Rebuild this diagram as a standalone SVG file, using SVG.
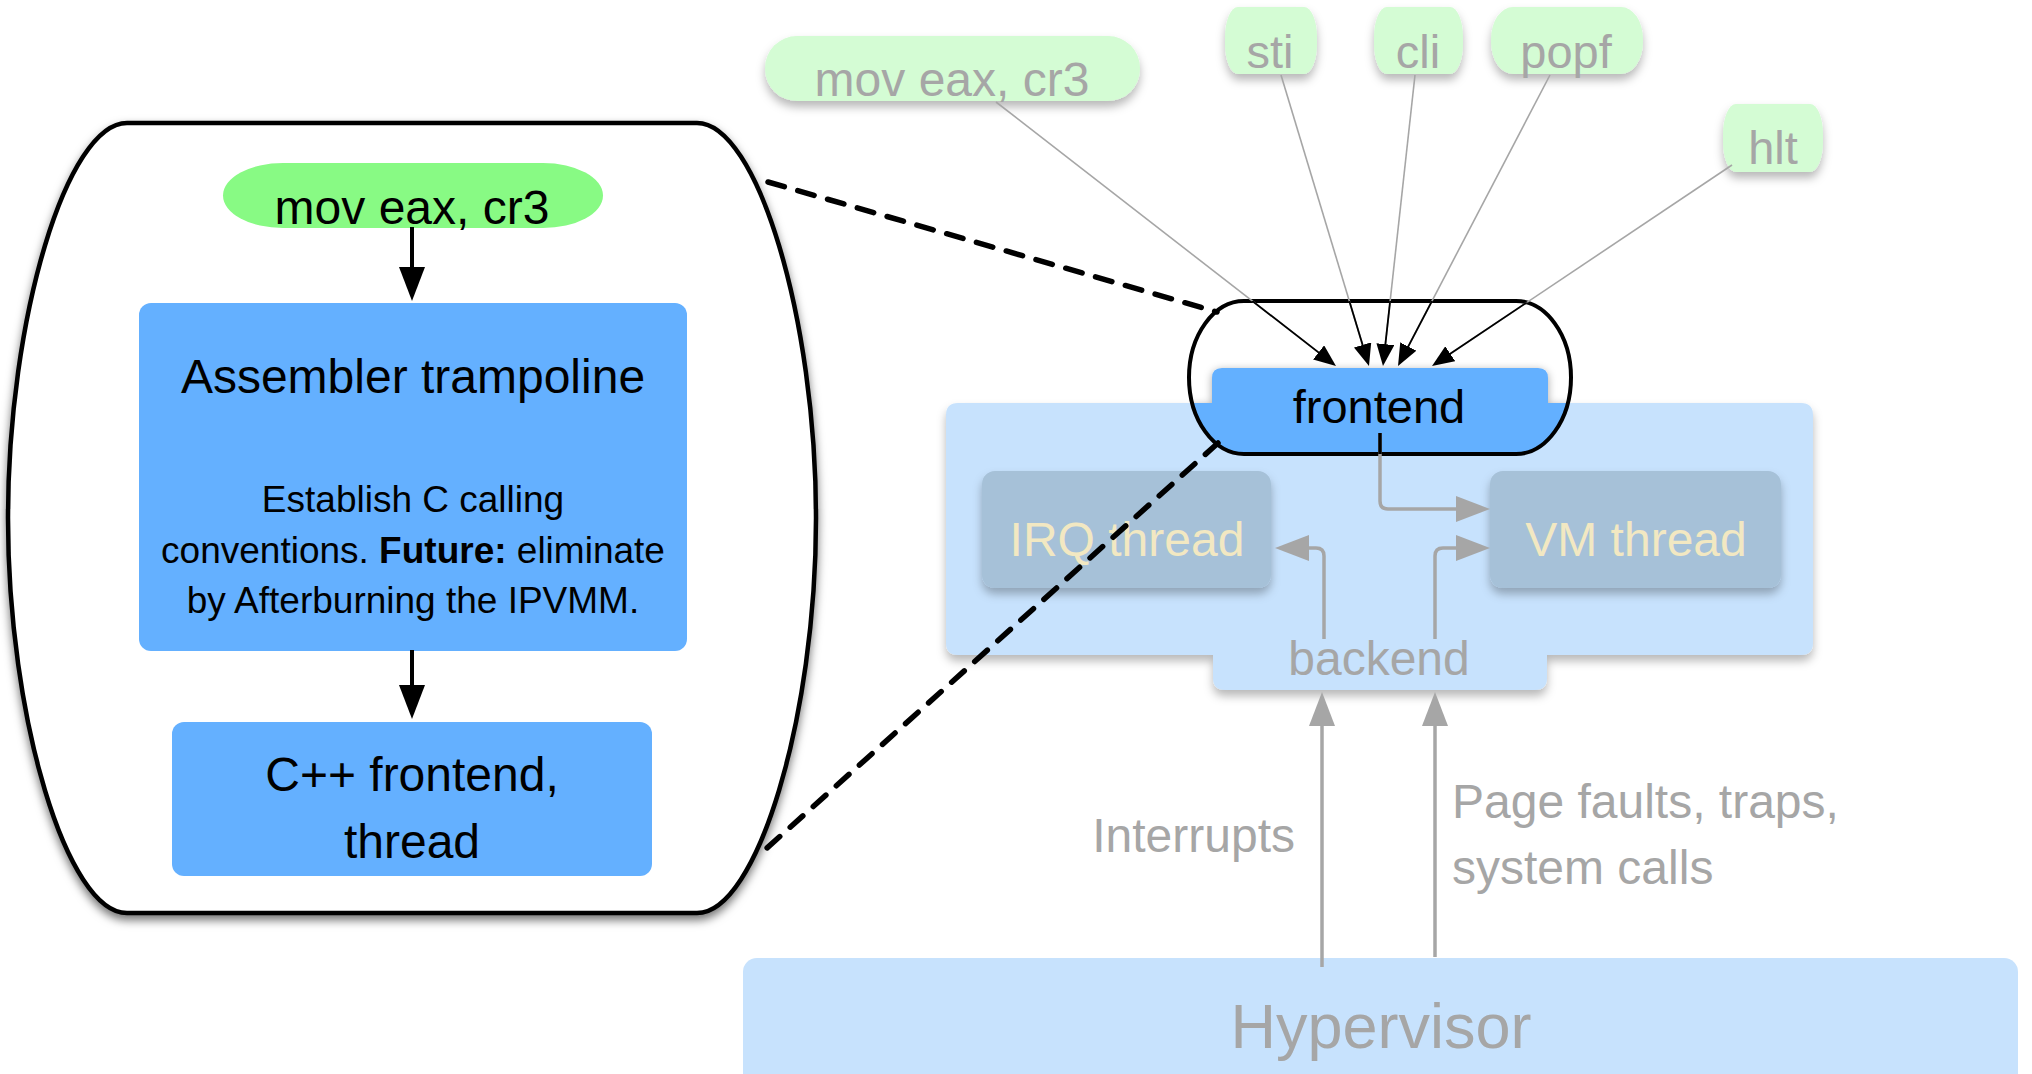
<svg xmlns="http://www.w3.org/2000/svg" width="2032" height="1074" viewBox="0 0 2032 1074">
<style>
text{font-family:"Liberation Sans",Arial,Helvetica,sans-serif}
.t48{font-size:48px}
.blk{fill:#000}
.gry{fill:#a6a6a6}
.mid{text-anchor:middle}
.blue{fill:#64b0ff}
.lblue{fill:#c7e2fd}
.pgreen{fill:#d4fcd4}
.thr{fill:#a6c1d8}
.thrt{fill:#f2e8c2}
.gline{fill:none;stroke:#a6a6a6;stroke-width:3.5}
.tline{fill:none;stroke:#a6a6a6;stroke-width:1.6}
.kline{fill:none;stroke:#000;stroke-width:1.8}
.dash{fill:none;stroke:#000;stroke-width:5.5;stroke-dasharray:17 14;stroke-linecap:round}
</style>
<defs>
<filter id="sh" x="-20%" y="-20%" width="140%" height="160%"><feDropShadow dx="0" dy="6" stdDeviation="5" flood-color="#000" flood-opacity="0.28"/></filter>
<filter id="shd" x="-10%" y="-10%" width="120%" height="125%"><feDropShadow dx="0" dy="5" stdDeviation="5" flood-color="#000" flood-opacity="0.55"/></filter>
<filter id="shs" x="-10%" y="-30%" width="120%" height="160%"><feDropShadow dx="0" dy="2" stdDeviation="4" flood-color="#000" flood-opacity="0.35"/></filter>
<clipPath id="fclip"><path d="M1244,301 H1516 C1546,301 1571,335 1571,377.5 C1571,420 1546,454 1516,454 H1244 C1214,454 1189,420 1189,377.5 C1189,335 1214,301 1244,301 Z"/></clipPath>
<marker id="abk" viewBox="0 0 34 26" refX="14" refY="13" markerWidth="34" markerHeight="26" markerUnits="userSpaceOnUse" orient="auto"><path d="M0,0 L34,13 L0,26 Z" fill="#000"/></marker>
<marker id="agr" viewBox="0 0 34 26" refX="14" refY="13" markerWidth="34" markerHeight="26" markerUnits="userSpaceOnUse" orient="auto"><path d="M0,0 L34,13 L0,26 Z" fill="#a6a6a6"/></marker>
<marker id="asm" viewBox="0 0 22 18" refX="10" refY="9" markerWidth="22" markerHeight="18" markerUnits="userSpaceOnUse" orient="auto"><path d="M0,0 L22,9 L0,18 Z" fill="#000"/></marker>
</defs>

<rect width="2032" height="1074" fill="#fff"/>

<!-- Hypervisor -->
<g id="hypervisor">
<rect x="743" y="958" width="1275" height="150" rx="14" class="lblue"/>
<text x="1381" y="1048" class="gry mid" style="font-size:63px">Hypervisor</text>
</g>

<!-- backend panel -->
<g id="backend">
<path filter="url(#sh)" class="lblue" d="M958,403 H1801 Q1813,403 1813,415 V643 Q1813,655 1801,655 H1547 V678 Q1547,690 1535,690 H1225 Q1213,690 1213,678 V655 H958 Q946,655 946,643 V415 Q946,403 958,403 Z"/>
<text x="1379" y="675" class="t48 gry mid">backend</text>
</g>
<g id="irq-thread">
<rect x="982" y="471" width="289" height="117" rx="13" class="thr" filter="url(#sh)"/>
<text x="1127" y="556" class="t48 thrt mid">IRQ thread</text>
</g>
<g id="vm-thread">
<rect x="1490" y="471" width="291" height="117" rx="13" class="thr" filter="url(#sh)"/>
<text x="1636" y="556" class="t48 thrt mid">VM thread</text>
</g>

<!-- frontend -->
<g id="frontend">
<path fill="#fff" d="M1244,301 H1516 C1546,301 1571,335 1571,377.5 C1571,420 1546,454 1516,454 H1244 C1214,454 1189,420 1189,377.5 C1189,335 1214,301 1244,301 Z"/>
<g clip-path="url(#fclip)">
<path class="blue" filter="url(#shs)" d="M1212,403 V378 Q1212,368 1222,368 H1538 Q1548,368 1548,378 V403 H1590 V470 H1170 V403 Z"/>
</g>
<text x="1379" y="423" class="blk mid" style="font-size:47px">frontend</text>
<path fill="none" stroke="#000" stroke-width="4" d="M1244,301 H1516 C1546,301 1571,335 1571,377.5 C1571,420 1546,454 1516,454 H1244 C1214,454 1189,420 1189,377.5 C1189,335 1214,301 1244,301 Z"/>
</g>

<!-- top instruction pills -->
<g id="pill-mov-top">
<rect x="765" y="36" width="375" height="65" rx="32" class="pgreen" filter="url(#sh)"/>
<text x="952" y="96" class="t48 gry mid">mov eax, cr3</text>
</g>
<g id="pill-sti">
<rect x="1225" y="7" width="92" height="67" rx="13" ry="30" class="pgreen" filter="url(#sh)"/>
<text x="1270" y="68" class="gry mid" style="font-size:47px">sti</text>
</g>
<g id="pill-cli">
<rect x="1374" y="7" width="89" height="67" rx="13" ry="30" class="pgreen" filter="url(#sh)"/>
<text x="1418" y="68" class="gry mid" style="font-size:47px">cli</text>
</g>
<g id="pill-popf">
<rect x="1491" y="7" width="152" height="67" rx="22" ry="32" class="pgreen" filter="url(#sh)"/>
<text x="1566" y="68" class="gry mid" style="font-size:47px">popf</text>
</g>
<g id="pill-hlt">
<rect x="1723" y="104" width="100" height="68" rx="13" ry="30" class="pgreen" filter="url(#sh)"/>
<text x="1773" y="164" class="gry mid" style="font-size:47px">hlt</text>
</g>

<!-- left detail container -->
<g id="detail">
<path filter="url(#shd)" fill="#fff" stroke="#000" stroke-width="4.5" d="M127,123 H697 C757,123 816,318 816,518 C816,718 757,913 697,913 H127 C67,913 8,718 8,518 C8,318 67,123 127,123 Z"/>
</g>
<g id="pill-mov">
<rect x="223" y="163" width="380" height="65" rx="60" ry="32.5" fill="#88fa84"/>
<text x="412" y="224" class="t48 blk mid">mov eax, cr3</text>
</g>
<g id="asm-trampoline">
<rect x="139" y="303" width="548" height="348" rx="12" class="blue"/>
<text x="413" y="393" class="t48 blk mid">Assembler trampoline</text>
<text class="blk mid" style="font-size:37px"><tspan x="413" y="512">Establish C calling</tspan><tspan x="413" y="563">conventions. <tspan font-weight="bold">Future:</tspan> eliminate</tspan><tspan x="413" y="613">by Afterburning the IPVMM.</tspan></text>
</g>
<g id="cpp-frontend">
<rect x="172" y="722" width="480" height="154" rx="12" class="blue"/>
<text class="t48 blk mid"><tspan x="412" y="791">C++ frontend,</tspan><tspan x="412" y="858">thread</tspan></text>
</g>

<!-- labels -->
<g id="labels">
<text x="1295" y="852" class="t48 gry" text-anchor="end">Interrupts</text>
<text class="t48 gry"><tspan x="1452" y="818">Page faults, traps,</tspan><tspan x="1452" y="884">system calls</tspan></text>
</g>

<!-- connectors -->
<g id="connectors">
<path class="kline" stroke-width="4" style="stroke-width:4" d="M412,227 V281" marker-end="url(#abk)"/>
<path class="kline" style="stroke-width:4" d="M412,650 V699" marker-end="url(#abk)"/>

<path class="tline" d="M996,102 L1326.5,358.6"/>
<path class="tline" d="M1281,75 L1365.5,354.5"/>
<path class="tline" d="M1415,75 L1384.3,354.1"/>
<path class="tline" d="M1550,75 L1403.6,355.4"/>
<path class="tline" d="M1732,165 L1442,359.3"/>
<g clip-path="url(#fclip)">
<path class="kline" d="M996,102 L1326.5,358.6"/>
<path class="kline" d="M1281,75 L1365.5,354.5"/>
<path class="kline" d="M1415,75 L1384.3,354.1"/>
<path class="kline" d="M1550,75 L1403.6,355.4"/>
<path class="kline" d="M1732,165 L1442,359.3"/>
</g>
<path fill="none" stroke="none" d="M996,102 L1326.5,358.6" marker-end="url(#asm)"/>
<path fill="none" stroke="none" d="M1281,75 L1365.5,354.5" marker-end="url(#asm)"/>
<path fill="none" stroke="none" d="M1415,75 L1384.3,354.1" marker-end="url(#asm)"/>
<path fill="none" stroke="none" d="M1550,75 L1403.6,355.4" marker-end="url(#asm)"/>
<path fill="none" stroke="none" d="M1732,165 L1442,359.3" marker-end="url(#asm)"/>

<path class="gline" d="M1380,433 V501 Q1380,509 1388,509 H1470" marker-end="url(#agr)"/>
<path fill="none" stroke="#000" stroke-width="3.5" clip-path="url(#fclip)" d="M1380,433 V470"/>
<path class="gline" d="M1324,639 V556 Q1324,548 1316,548 H1295" marker-end="url(#agr)"/>
<path class="gline" d="M1435,639 V556 Q1435,548 1443,548 H1470" marker-end="url(#agr)"/>
<path class="gline" d="M1322,967 V712" marker-end="url(#agr)"/>
<path class="gline" d="M1435,957 V712" marker-end="url(#agr)"/>

<path class="dash" d="M768,182 L1217,312"/>
<path class="dash" d="M1218,443 L757,857"/>
</g>
</svg>
